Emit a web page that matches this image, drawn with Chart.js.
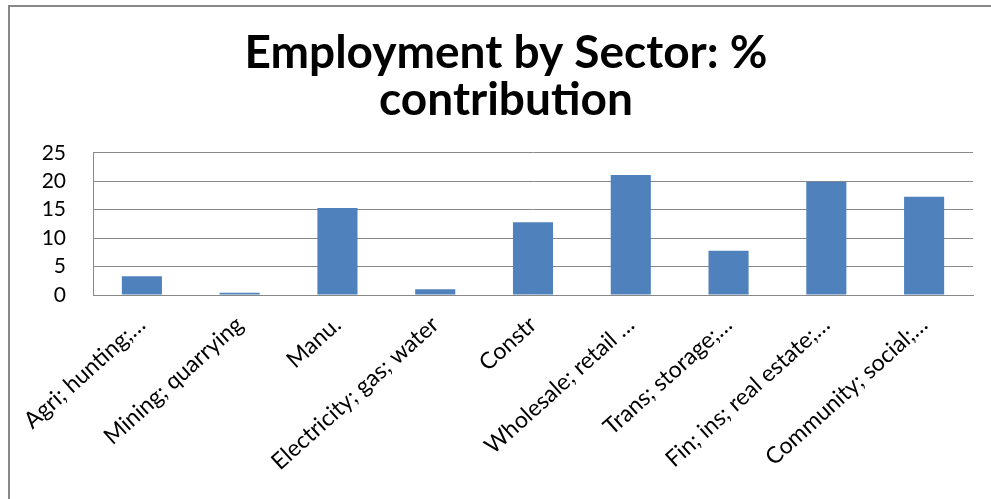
<!DOCTYPE html>
<html>
<head>
<meta charset="utf-8">
<script src="https://cdn.jsdelivr.net/npm/chart.js@4"></script>
<style>
  html, body { margin: 0; padding: 0; background: #fff; }
  #wrap { position: relative; width: 991px; height: 499px; overflow: hidden; }
  #frame { position: absolute; left: 8px; top: 5px; width: 1200px; height: 800px;
           border-left: 2px solid #888; border-top: 2px solid #888; }
  canvas { position: absolute; left: 0; top: 0; }
</style>
</head>
<body>
<div id="wrap">
  <div id="frame"></div>
  <canvas id="chart" width="991" height="499"></canvas>
</div>
<script>
// sectors and their share of employment (%)
const sectors = [
  "Agri; hunting;…",
  "Mining; quarrying",
  "Manu.",
  "Electricity; gas; water",
  "Constr",
  "Wholesale; retail …",
  "Trans; storage;…",
  "Fin; ins; real estate;…",
  "Community; social;…"
];
const shares = [3.3, 0.4, 15.3, 1.0, 12.8, 21.1, 7.8, 19.9, 17.3];
const yTicks = [0, 5, 10, 15, 20, 25];

const ctx = document.getElementById("chart").getContext("2d");

new Chart(ctx, {
  type: "bar",
  data: {
    labels: sectors,
    datasets: [
      {
        label: "% contribution",
        data: shares,
        backgroundColor: "#4F81BD",
        categoryPercentage: 1,
        barPercentage: 0.41,
      },
    ],
  },
  options: {
    responsive: false,
    animation: false,
    // left/right padding unequal so the title sits where it does in the original
    layout: { padding: { left: 39, right: 18, top: 0, bottom: 0 } },
    plugins: {
      legend: { display: false },
      tooltip: { enabled: false },
      title: {
        display: true,
        text: ["Employment by Sector: %", "contribution"],
        color: "#000",
        font: { family: "Lato", size: 46, weight: "bold", lineHeight: 1.02 },
        padding: { top: 30, bottom: 29 },
      },
    },
    scales: {
      x: {
        grid: { display: false, drawTicks: false },
        border: { display: true, color: "#888", width: 1 },
        ticks: {
          color: "#000",
          font: { family: "Lato", size: 23 },
          minRotation: 42,
          maxRotation: 42,
          autoSkip: false,
          padding: 16,
        },
        afterFit: (scale) => { scale.height = 204; },
      },
      y: {
        min: 0,
        max: 25,
        afterBuildTicks: (scale) => { scale.ticks = yTicks.map((v) => ({ value: v })); },
        grid: { color: "#888", lineWidth: 1, drawTicks: false },
        border: { display: true, color: "#888", width: 1 },
        ticks: {
          color: "#000",
          font: { family: "Lato", size: 21 },
          padding: 27,
        },
        afterFit: (scale) => { scale.width = 54; },
      },
    },
  },
});
</script>
</body>
</html>
